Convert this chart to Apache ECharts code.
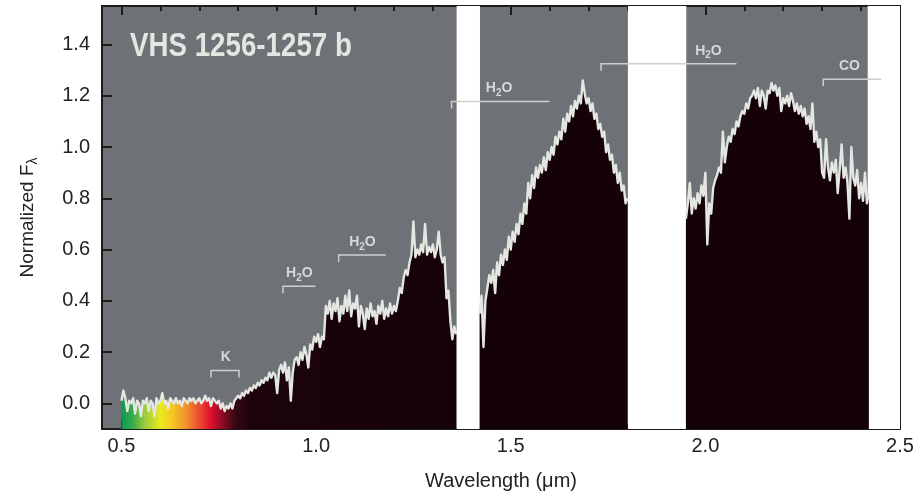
<!DOCTYPE html>
<html><head><meta charset="utf-8">
<script src="https://cdn.jsdelivr.net/npm/echarts@6/dist/echarts.min.js"></script>
<style>html,body{margin:0;padding:0;background:#fff}#c{width:922px;height:499px}</style>
</head><body><div id="c"></div>
<script>
// ---- data ----
const sampleStep = 0.005;            // wavelength sampling (µm)
const segStart = [0.500, 1.420, 1.950];
// segment 1: 0.500 – 1.360 µm
const flux1 = [
 0.01, 0.05, 0.02,-0.03, 0.01, 0.00, 0.02,-0.04, 0.01, 0.00,
-0.05, 0.01, 0.00, 0.02,-0.03, 0.01, 0.00,-0.05, 0.02, 0.00,
 0.01, 0.04, 0.00, 0.01,-0.02, 0.02, 0.01, 0.00, 0.02, 0.00,
 0.01,-0.01, 0.02, 0.01, 0.00, 0.02, 0.01, 0.02, 0.00, 0.01,
 0.02, 0.00, 0.01, 0.03, 0.01, 0.02,-0.01, 0.02, 0.01, 0.00,
 0.01,-0.02, 0.00,-0.03,-0.01,-0.02, 0.00,-0.02, 0.01, 0.02,
 0.03, 0.02, 0.04, 0.03, 0.05, 0.04, 0.06, 0.05, 0.07, 0.06,
 0.08, 0.07, 0.09, 0.08, 0.10, 0.09, 0.12, 0.10, 0.12, 0.11,
 0.04, 0.13, 0.15, 0.12, 0.16, 0.09, 0.14, 0.01, 0.12, 0.17,
 0.18, 0.15, 0.20, 0.17, 0.22, 0.19, 0.14, 0.23, 0.21, 0.26,
 0.24, 0.27, 0.22, 0.26, 0.25, 0.38, 0.35, 0.40, 0.33, 0.39,
 0.36, 0.41, 0.32, 0.38, 0.35, 0.42, 0.36, 0.44, 0.34, 0.39,
 0.37, 0.42, 0.30, 0.38, 0.35, 0.29, 0.37, 0.33, 0.39, 0.34,
 0.36, 0.31, 0.38, 0.35, 0.40, 0.33, 0.37, 0.34, 0.39, 0.35,
 0.38, 0.36, 0.40, 0.45, 0.43, 0.49, 0.52, 0.50, 0.55, 0.58,
 0.71, 0.57, 0.60, 0.58, 0.62, 0.59, 0.70, 0.58, 0.61, 0.59,
 0.62, 0.57, 0.60, 0.67, 0.58, 0.55, 0.57, 0.41, 0.44, 0.32,
 0.25, 0.30, 0.27
];
// segment 2: 1.420 – 1.800 µm
const flux2 = [
 0.35, 0.42, 0.22, 0.40, 0.45, 0.50, 0.47, 0.52, 0.43, 0.55,
 0.50, 0.58, 0.54, 0.60, 0.56, 0.65, 0.60, 0.67, 0.63, 0.70,
 0.66, 0.74, 0.70, 0.78, 0.74, 0.86, 0.80, 0.89, 0.84, 0.92,
 0.88, 0.93, 0.90, 0.96, 0.91, 0.98, 0.95, 1.00, 0.97, 1.04,
 1.01, 1.06, 1.03, 1.11, 1.06, 1.13, 1.10, 1.16, 1.12, 1.18,
 1.15, 1.20, 1.17, 1.26, 1.21, 1.17, 1.19, 1.14, 1.17, 1.11,
 1.13, 1.07, 1.09, 1.04, 1.06, 0.98, 1.01, 0.95, 0.97, 0.90,
 0.93, 0.86, 0.90, 0.83, 0.85, 0.78, 0.80
];
// segment 3: 1.950 – 2.420 µm
const flux3 = [
 0.72, 0.78, 0.86, 0.74, 0.80, 0.76, 0.82, 0.78, 0.85, 0.81,
 0.90, 0.62, 0.78, 0.74, 0.84, 0.87, 0.89, 0.92, 0.90, 1.06,
 0.94, 1.00, 1.04, 1.02, 1.07, 1.05, 1.10, 1.08, 1.12, 1.14,
 1.13, 1.17, 1.15, 1.19, 1.20, 1.22, 1.19, 1.23, 1.16, 1.22,
 1.20, 1.15, 1.22, 1.21, 1.25, 1.22, 1.24, 1.20, 1.23, 1.14,
 1.19, 1.17, 1.20, 1.16, 1.21, 1.18, 1.14, 1.17, 1.13, 1.16,
 1.12, 1.15, 1.09, 1.12, 1.07, 1.17, 1.02, 1.06, 1.00, 1.03,
 0.90, 0.88, 1.03, 0.92, 0.87, 0.94, 0.90, 0.95, 0.82, 0.91,
 1.01, 0.88, 0.92, 0.86, 0.72, 1.00, 0.88, 0.85, 0.91, 0.80,
 0.86, 0.79, 0.90, 0.78, 0.82
];
// telluric gaps (white bands)
const gapStart = [1.361, 1.801, 2.417];
const gapEnd   = [1.421, 1.951, 2.500];
// axis ticks
const xMajor = [0.5, 1.0, 1.5, 2.0, 2.5];
const xMinor = [0.6,0.7,0.8,0.9,1.1,1.2,1.3,1.4,1.6,1.7,1.8,1.9,2.1,2.2,2.3,2.4];
const yMajor = [0.0, 0.2, 0.4, 0.6, 0.8, 1.0, 1.2, 1.4];
// absorption features
const featLabel  = ['K', 'H2O', 'H2O', 'H2O', 'H2O', 'CO'];
const featStart  = [0.730, 0.915, 1.058, 1.348, 1.732, 2.303];
const featEnd    = [0.802, 0.998, 1.179, 1.600, 2.080, 2.452];
const featLevel  = [0.128, 0.457, 0.579, 1.177, 1.325, 1.264];
const featTextX  = [0.768, 0.957, 1.119, 1.470, 2.008, 2.370];
const featBoth   = [true, false, false, false, false, false];
// rainbow colour of the optical part
const rainbowAt  = [0.50, 0.53, 0.56, 0.60, 0.63, 0.67, 0.70, 0.73, 0.76, 0.79, 0.83, 1.36];
const rainbowCol = ['#0c9a50','#3aab4a','#9ccc3c','#ece81e','#f5c825','#f28a2e','#ec4a2e','#de0f2f','#8a0c22','#3a0714','#1c030b','#150209'];

// ---- build ----
function pairs(start, arr){ return arr.map((v,i)=>[+(start + i*sampleStep).toFixed(3), v]); }
const segData = [pairs(segStart[0],flux1), pairs(segStart[1],flux2), pairs(segStart[2],flux3)];
const seg1Lo = segData[0][0][0], seg1Hi = segData[0][segData[0].length-1][0];
const stops = rainbowAt.map((w,i)=>({offset:(w-seg1Lo)/(seg1Hi-seg1Lo), color:rainbowCol[i]}));

const XMIN = 0.45, XMAX = 2.5, YMIN = -0.1, YMAX = 1.55;
const FONT = 'Liberation Sans, Arial, Helvetica, sans-serif';
const axisLineStyle = {color:'#1c1c1c', width:2};

function xAxisDef(pos, ticks, len, labels){
  return {type:'value', min:XMIN, max:XMAX, position:pos, splitLine:{show:false},
    axisLine:{show:true, onZero:false, lineStyle:axisLineStyle},
    axisTick:{show:true, inside:true, length:len, customValues:ticks, lineStyle:{color:'#1c1c1c', width:2}},
    axisLabel:{show:labels, customValues:ticks, formatter:v=>v.toFixed(1), fontSize:20, color:'#222', fontFamily:FONT, margin:7}};
}
const xAxes = [xAxisDef('bottom', xMajor, 9, true), xAxisDef('bottom', xMinor, 5, false),
               xAxisDef('top', xMajor, 9, false), xAxisDef('top', xMinor, 5, false)];
xAxes[0].name = 'Wavelength (μm)';
xAxes[0].nameLocation = 'middle';
xAxes[0].nameGap = 42;
xAxes[0].nameTextStyle = {fontSize:20, color:'#222', fontFamily:FONT};

function yAxisDef(pos, labels){
  return {type:'value', min:YMIN, max:YMAX, position:pos, splitLine:{show:false},
    axisLine:{show:true, onZero:false, lineStyle:axisLineStyle},
    axisTick:{show:true, inside:true, length:10, customValues:yMajor, lineStyle:{color:'#1c1c1c', width:2}},
    axisLabel:{show:labels, customValues:yMajor, formatter:v=>v.toFixed(1), fontSize:20, color:'#222', fontFamily:FONT, margin:12}};
}
const yAxes = [yAxisDef('left', true), yAxisDef('right', false)];
yAxes[0].name = '{n|Normalized F}{s|λ}';
yAxes[0].nameLocation = 'middle';
yAxes[0].nameRotate = 90;
yAxes[0].nameGap = 62;
yAxes[0].nameTextStyle = {color:'#222', fontFamily:FONT, rich:{
  n:{fontSize:19, color:'#222', fontFamily:FONT},
  s:{fontSize:14, color:'#222', fontFamily:FONT, padding:[10,0,0,0]}}};

const lineColor = '#e4e7e1';
const series = segData.map((d,k)=>({
  type:'line', data:d, xAxisIndex:0, yAxisIndex:0, symbol:'none', silent:true, animation:false,
  lineStyle:{color:lineColor, width:2.4, join:'round'}, z:3,
  areaStyle:{origin:'start', opacity:1,
    color: k===0 ? new echarts.graphic.LinearGradient(0,0,1,0,stops) : '#150209'}
}));
series[0].markArea = {silent:true, itemStyle:{color:'#ffffff', opacity:1},
  data: gapStart.map((s,i)=>[{xAxis:s},{xAxis:gapEnd[i]}])};

const featData = featLabel.map((l,i)=>[featStart[i], featEnd[i], featLevel[i], featTextX[i]]);
series.push({
  type:'custom', xAxisIndex:0, yAxisIndex:0, data:featData, silent:true, animation:false, z:5,
  renderItem:function(params, api){
    const i = params.dataIndex;
    const y = api.value(2);
    const p1 = api.coord([api.value(0), y]);
    const p2 = api.coord([api.value(1), y]);
    const pt = api.coord([api.value(3), y]);
    const t = 7;
    const pts = featBoth[i] ? [[p1[0],p1[1]+t],p1,p2,[p2[0],p2[1]+t]] : [[p1[0],p1[1]+t],p1,p2];
    const lab = featLabel[i];
    const txt = lab === 'H2O' ? '{n|H}{s|2}{n|O}' : '{n|'+lab+'}';
    return {type:'group', children:[
      {type:'polyline', shape:{points:pts}, style:{stroke:'#cdd0cb', lineWidth:1.5, fill:null}},
      {type:'text', x:pt[0], y:pt[1]-13, style:{text:txt, align:'center', verticalAlign:'middle',
        rich:{n:{fontSize:14, fontWeight:'bold', fill:'#d6d9d4', fontFamily:FONT},
              s:{fontSize:10, fontWeight:'bold', fill:'#d6d9d4', fontFamily:FONT, padding:[10,0,0,0]}}}}
    ]};
  },
  encode:{x:[0,1,3], y:2}
});

const chart = echarts.init(document.getElementById('c'), null, {renderer:'canvas'});
chart.setOption({
  animation:false,
  backgroundColor:'#ffffff',
  graphic:[{type:'text', left:130, top:30, z:10, scaleX:0.84, scaleY:1, originX:0,
    style:{text:'VHS 1256-1257 b', fill:'#e3e6e1', font:'bold 33px "Liberation Sans", Arial, sans-serif'}}],
  grid:{left:102, right:22, top:6, bottom:70, show:true, backgroundColor:'#6e7276', borderWidth:0},
  xAxis:xAxes, yAxis:yAxes, series:series
});
</script></body></html>
